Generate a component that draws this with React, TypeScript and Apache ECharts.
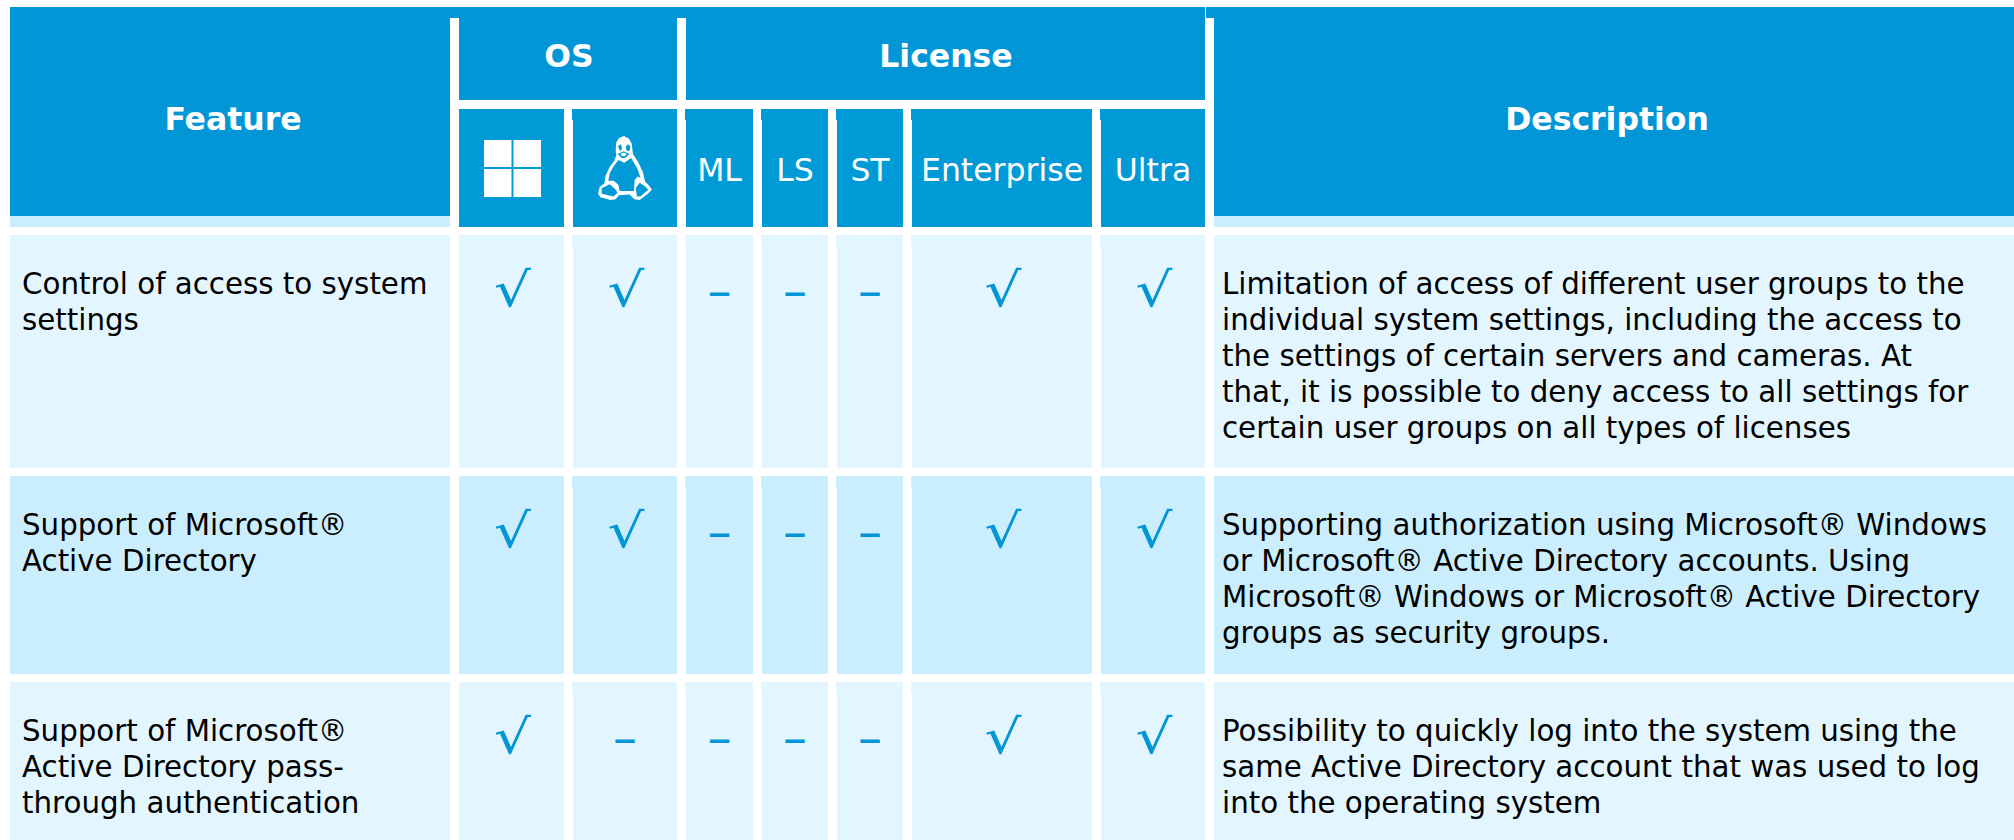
import React, { useEffect, useRef } from "react";
import * as echarts from "echarts";

const blue = "#0396D6";
const subBlue = "#009BD7";
const rowLight = "#E3F6FF";
const rowMid = "#CBEEFF";

const columnNames = ["Windows", "Linux", "ML", "LS", "ST", "Enterprise", "Ultra"];
const subHeaders = ["", "", "ML", "LS", "ST", "Enterprise", "Ultra"];
const features = [
  ["Control of access to system", "settings"],
  ["Support of Microsoft®", "Active Directory"],
  ["Support of Microsoft®", "Active Directory pass-", "through authentication"],
];
const descriptions = [
  [
    "Limitation of access of different user groups to the",
    "individual system settings, including the access to",
    "the settings of certain servers and cameras. At",
    "that, it is possible to deny access to all settings for",
    "certain user groups on all types of licenses",
  ],
  [
    "Supporting authorization using Microsoft® Windows",
    "or Microsoft® Active Directory accounts. Using",
    "Microsoft® Windows or Microsoft® Active Directory",
    "groups as security groups.",
  ],
  [
    "Possibility to quickly log into the system using the",
    "same Active Directory account that was used to log",
    "into the operating system",
  ],
];
const marks = [
  [1, 1, 0, 0, 0, 1, 1],
  [1, 1, 0, 0, 0, 1, 1],
  [1, 0, 0, 0, 0, 1, 1],
];

const colEdges = [
  [459, 564], [573, 677], [686, 753], [762, 828], [837, 903], [912, 1092], [1101, 1205],
];
const rowEdges = [[235, 468], [476, 674], [682, 840]];
const rowFill = [rowLight, rowMid, rowLight];
const FONT = '"DejaVu Sans", Verdana, sans-serif';

const TUX =
  "M103 20L88 26L80 38L78 60L80 76L74 92L60 110L48 135L44 158L30 168L25 188L32 198L62 206L78 204L88 192L120 190L134 204L150 206L172 190L187 176L176 162L166 152L160 125L145 95L130 72L126 42L118 28Z" +
  "M86 90L104 98L124 84L142 112L153 142L144 138L135 148L133 180L90 180L86 162L72 150L56 150L60 128L72 108Z" +
  "M36 172L60 160L74 172L84 184L72 196L36 188Z" +
  "M150 156L166 166L176 176L152 196L142 196L138 172Z" +
  "M85 50L92 44L97 52L95 62L90 62Z" +
  "M108 52L114 44L122 50L120 62L112 64Z" +
  "M84 72L102 64L120 72L106 84L96 84Z" +
  "M92 72L102 68L112 72L104 79L98 79Z";

type Cell = Record<string, any>;

function App() {
  const ref = useRef<HTMLDivElement>(null);
  useEffect(() => {
    const chart = echarts.init(ref.current!, null, { renderer: "svg" });
    const cells: Cell[] = [];
    const rect = (x0: number, y0: number, x1: number, y1: number, fill: string) =>
      cells.push({ kind: "rect", x0, y0, x1, y1, fill });
    const label = (x: number, y: number, text: string, size: number, color: string, weight: string, align: string, scaleY = 1) =>
      cells.push({ kind: "text", x, y, text, size, color, weight, align, scaleY });

    // header
    rect(10, 7, 1205, 18, blue);
    rect(10, 18, 450, 216, blue);
    rect(10, 216, 450, 227, rowMid);
    rect(459, 18, 677, 100, blue);
    rect(686, 18, 1205, 100, blue);
    rect(1206, 7, 2014, 18, blue);
    rect(1214, 18, 2014, 216, blue);
    rect(1214, 216, 2014, 227, rowMid);
    columnNames.forEach((_, c) => {
      rect(colEdges[c][0], 109, colEdges[c][1], 227, subBlue);
      if (c > 0) rect(colEdges[c][0] - 1, 109, colEdges[c][0], 120, subBlue);
    });
    label(233, 119, "Feature", 31.5, "#ffffff", "bold", "center");
    label(569, 56, "OS", 31.5, "#ffffff", "bold", "center");
    label(946, 56, "License", 31.5, "#ffffff", "bold", "center");
    label(1607, 119, "Description", 31.5, "#ffffff", "bold", "center");
    subHeaders.forEach((t, c) => {
      if (t) label((colEdges[c][0] + colEdges[c][1]) / 2, 170, t, 31.5, "#ffffff", "normal", "center");
    });
    // Windows glyph
    rect(484, 140, 511.5, 167, "#ffffff");
    rect(513.5, 140, 541, 167, "#ffffff");
    rect(484, 169, 511.5, 197, "#ffffff");
    rect(513.5, 169, 541, 197, "#ffffff");
    cells.push({ kind: "tux", x: 598, y: 136, w: 54, h: 64 });

    // rows
    rowEdges.forEach(([y0, y1], r) => {
      rect(10, y0, 450, y1, rowFill[r]);
      rect(1214, y0, 2014, y1, rowFill[r]);
      colEdges.forEach(([x0, x1], c) => {
        rect(x0, y0, x1, y1, rowFill[r]);
        if (c > 0) rect(x0 - 1, y0, x0, y0 + 11, rowFill[r]);
        const cx = (x0 + x1) / 2;
        if (marks[r][c]) label(cx + 1, y0 + 55, "√", 58, blue, "normal", "center", 0.82);
        else label(cx, y0 + 55.5, "–", 48, blue, "normal", "center");
      });
      features[r].forEach((t, i) => label(22, y0 + 49 + i * 36, t, 29.3, "#000000", "normal", "left"));
      descriptions[r].forEach((t, i) => label(1222, y0 + 49 + i * 36, t, 29.3, "#000000", "normal", "left"));
    });

    chart.setOption({
      animation: false,
      grid: { left: 0, right: 0, top: 0, bottom: 0 },
      xAxis: { type: "value", min: 0, max: 2014, show: false },
      yAxis: { type: "value", min: 0, max: 840, inverse: true, show: false },
      series: [
        {
          type: "custom",
          coordinateSystem: "cartesian2d",
          silent: true,
          clip: false,
          data: cells.map((_, i) => [i, i]),
          renderItem: (params: any, api: any) => {
            const cell = cells[params.dataIndex];
            if (cell.kind === "rect") {
              const a = api.coord([cell.x0, cell.y0]);
              const b = api.coord([cell.x1, cell.y1]);
              return {
                type: "rect",
                shape: { x: a[0], y: a[1], width: b[0] - a[0], height: b[1] - a[1] },
                style: { fill: cell.fill },
              };
            }
            if (cell.kind === "tux") {
              const p = api.coord([cell.x, cell.y]);
              return {
                type: "path",
                shape: { pathData: TUX, x: p[0], y: p[1], width: cell.w, height: cell.h, layout: "cover" },
                style: { fill: "#ffffff", fillRule: "evenodd" },
              };
            }
            const p = api.coord([cell.x, cell.y]);
            return {
              type: "text",
              x: p[0],
              y: p[1],
              scaleY: cell.scaleY,
              style: {
                text: cell.text,
                fill: cell.color,
                font: `${cell.weight} ${cell.size}px ${FONT}`,
                align: cell.align,
                verticalAlign: "middle",
              },
            };
          },
        },
      ],
    });
    return () => chart.dispose();
  }, []);
  return <div ref={ref} style={{ position: "fixed", left: 0, top: 0, width: 2014, height: 840, background: "#fff" }} />;
}

export default App;
